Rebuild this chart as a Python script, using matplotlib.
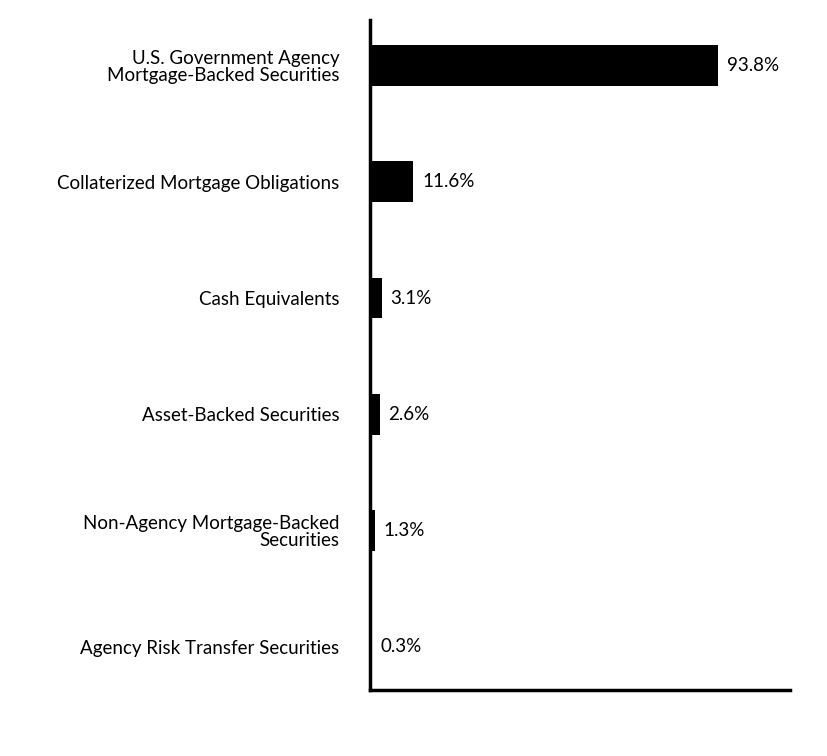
import matplotlib
matplotlib.use("Agg")
import matplotlib.pyplot as plt

categories = ["U.S. Government Agency\nMortgage-Backed Securities",
              "Collaterized Mortgage Obligations",
              "Cash Equivalents",
              "Asset-Backed Securities",
              "Non-Agency Mortgage-Backed\nSecurities",
              "Agency Risk Transfer Securities"]
values = [93.8, 11.6, 3.1, 2.6, 1.3, 0.3]
value_labels = ["93.8%", "11.6%", "3.1%", "2.6%", "1.3%", "0.3%"]

plt.rcParams["font.family"] = "Lato"
fig = plt.figure(figsize=(8.28, 7.56), dpi=100)
ax = fig.add_axes([370/828, 1-690/756, 420/828, 670/756])
y = list(range(len(values)))
ax.barh(y, values, height=0.35, color="black")
ax.set_xlim(0, 113.2)
ax.set_ylim(5.37, -0.39)
for yi, v, lab in zip(y, values, value_labels):
    ax.text(v + 2.4, yi, lab, va="center", ha="left", fontsize=13.5)
ax.set_yticks(y)
ax.set_yticklabels(categories, fontsize=13.5, linespacing=1.0)
ax.tick_params(axis="y", length=0, pad=22)
ax.set_xticks([])
for s in ["top", "right"]:
    ax.spines[s].set_visible(False)
for s in ["left", "bottom"]:
    ax.spines[s].set_linewidth(2.5)
fig.savefig("out.png", dpi=100)
